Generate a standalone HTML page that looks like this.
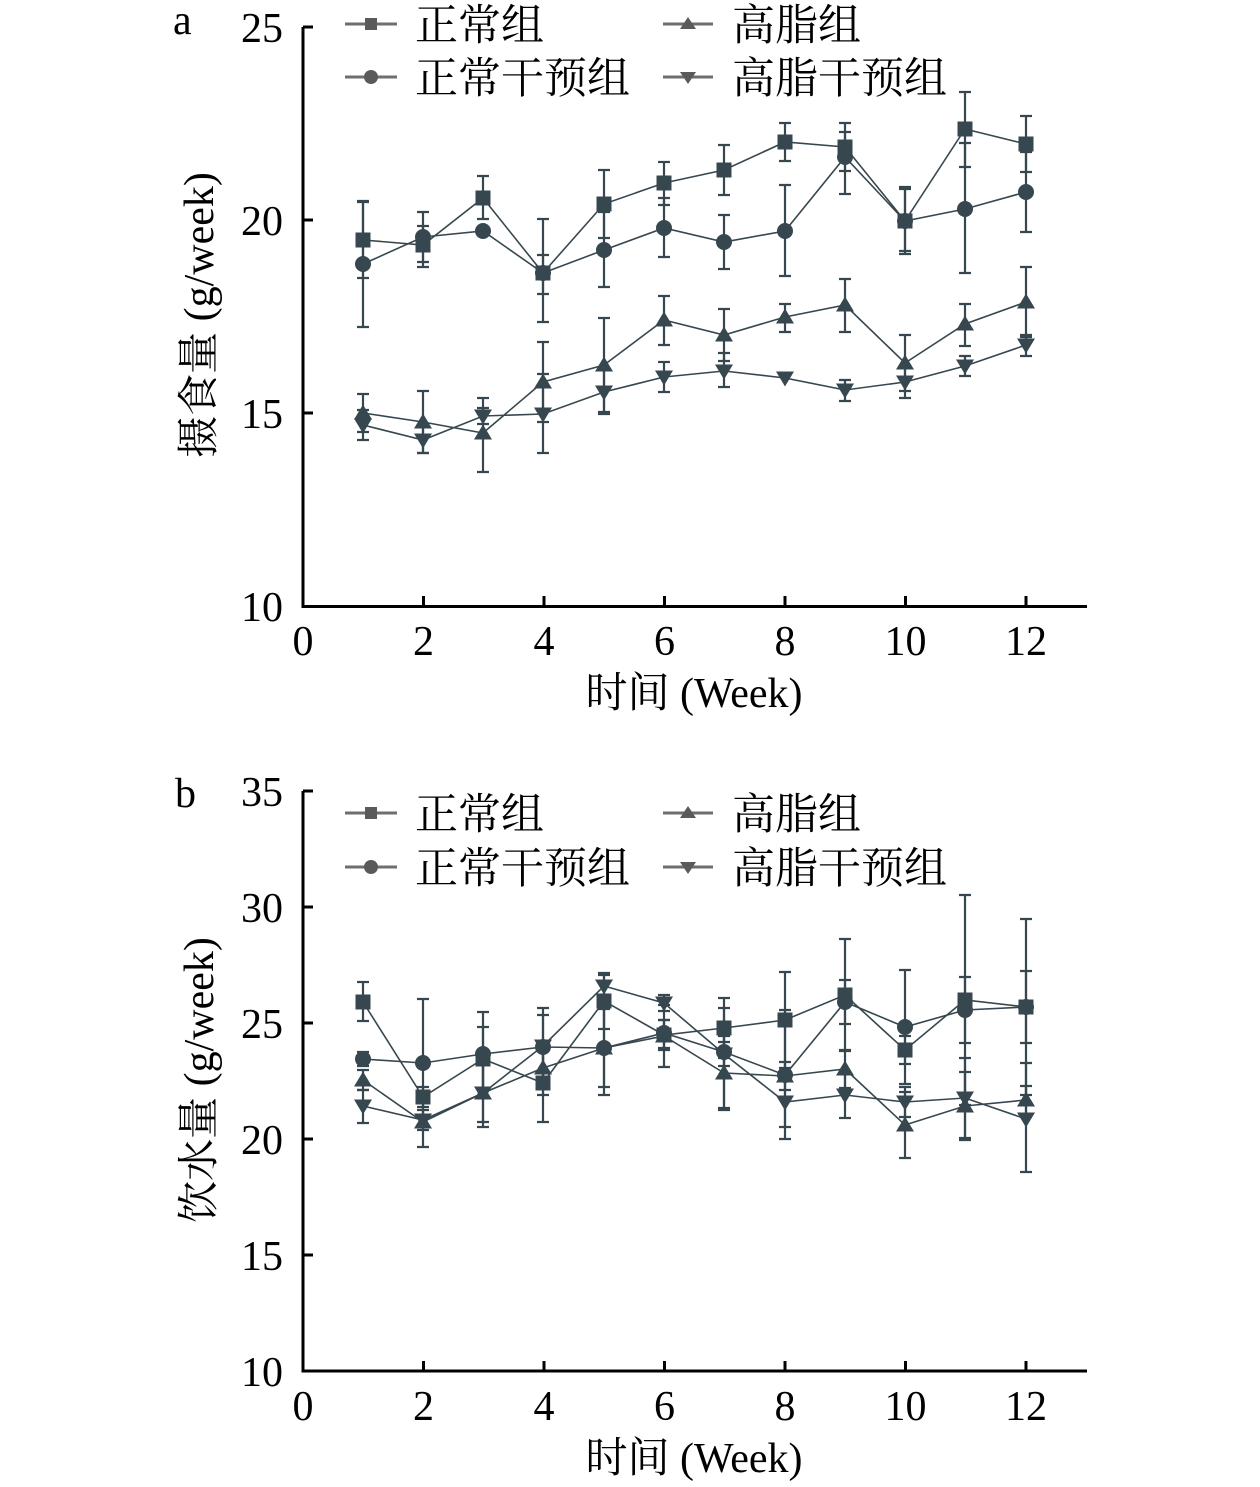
<!DOCTYPE html>
<html>
<head>
<meta charset="utf-8">
<style>
html,body{margin:0;padding:0;background:#fff;}
svg{display:block;}
.num{font-family:"Liberation Serif","Noto Serif CJK SC",serif;font-size:42px;fill:#000;}
.cjk{font-family:"Liberation Serif","Noto Serif CJK SC",serif;font-size:43px;fill:#000;}
.ln{fill:none;stroke:#37474f;stroke-width:1.6;}
.eb{fill:none;stroke:#37474f;stroke-width:2.2;}
.mk{fill:#37474f;}
.lg{fill:#5a5a5a;}
.lgl{stroke:#6e6e6e;stroke-width:3;}
.ax{stroke:#000;stroke-width:3;fill:none;}
</style>
</head>
<body>
<svg width="1260" height="1487" viewBox="0 0 1260 1487" xmlns="http://www.w3.org/2000/svg">
<defs>
<rect id="sq" x="-7.5" y="-7.5" width="15" height="15"/>
<circle id="ci" r="8"/>
<path id="tu" d="M0,-8.5 L9,6.5 L-9,6.5Z"/>
<path id="td" d="M0,8.5 L9,-6.5 L-9,-6.5Z"/>
<rect id="lsq" x="-6" y="-6" width="12" height="12"/>
<circle id="lci" r="7"/>
<path id="ltu" d="M0,-7 L8,5 L-8,5Z"/>
<path id="ltd" d="M0,7 L8,-5 L-8,-5Z"/>
</defs>

<!-- ================= CHART A ================= -->
<text class="num" x="173" y="34">a</text>
<path class="ax" d="M303 27V606.5H1087"/>
<path class="ax" d="M303 27h10M303 220h10M303 413h10"/>
<path class="ax" d="M423.5 606V596M544 606V596M664.5 606V596M785 606V596M905.5 606V596M1026 606V596"/>
<text class="num" x="283" y="42" text-anchor="end">25</text>
<text class="num" x="283" y="235" text-anchor="end">20</text>
<text class="num" x="283" y="428" text-anchor="end">15</text>
<text class="num" x="283" y="621" text-anchor="end">10</text>
<text class="num" x="303" y="655" text-anchor="middle">0</text>
<text class="num" x="423.5" y="655" text-anchor="middle">2</text>
<text class="num" x="544" y="655" text-anchor="middle">4</text>
<text class="num" x="664.5" y="655" text-anchor="middle">6</text>
<text class="num" x="785" y="655" text-anchor="middle">8</text>
<text class="num" x="905.5" y="655" text-anchor="middle">10</text>
<text class="num" x="1026" y="655" text-anchor="middle">12</text>
<text class="cjk" x="694" y="707" text-anchor="middle" style="font-size:42px">时间 (Week)</text>
<text class="cjk" transform="translate(213,315) rotate(-90)" text-anchor="middle" style="font-size:42px">摄食量 (g/week)</text>
<line class="lgl" x1="345" y1="24" x2="397" y2="24"/><use href="#lsq" x="371" y="24" class="lg"/>
<text class="cjk" x="415" y="40">正常组</text>
<line class="lgl" x1="345" y1="77" x2="397" y2="77"/><use href="#lci" x="371" y="77" class="lg"/>
<text class="cjk" x="415" y="93">正常干预组</text>
<line class="lgl" x1="663" y1="24" x2="713" y2="24"/><use href="#ltu" x="688" y="24" class="lg"/>
<text class="cjk" x="732" y="40">高脂组</text>
<line class="lgl" x1="663" y1="77" x2="713" y2="77"/><use href="#ltd" x="688" y="77" class="lg"/>
<text class="cjk" x="732" y="93">高脂干预组</text>

<polyline class="ln" points="363,240 423,245 483,198 543,273 604,204 664,183 724,170 785,142 845,147 905,221 965,129 1026,144"/>
<polyline class="ln" points="363,264 423,237 483,231 543,273 604,250 664,228 724,242 785,231 845,157 905,221 965,209 1026,192"/>
<polyline class="ln" points="363,413 423,422 483,433 543,382 604,365 664,320 724,335 785,317 845,305 905,363 965,324 1026,302"/>
<polyline class="ln" points="363,425 423,440 483,416 543,414 604,392 664,377 724,371 785,378 845,390 905,382 965,366 1026,345"/>
<path class="eb" d="M363 202V278M357 202h12M357 278h12M423 226V267M417 226h12M417 267h12M483 176V219M477 176h12M477 219h12M543 219V322M537 219h12M537 322h12M604 170V238M598 170h12M598 238h12M664 162V205M658 162h12M658 205h12M724 145V195M718 145h12M718 195h12M785 123V161M779 123h12M779 161h12M845 123V171M839 123h12M839 171h12M905 187V254M899 187h12M899 254h12M965 92V167M959 92h12M959 167h12M1026 116V172M1020 116h12M1020 172h12"/>
<path class="eb" d="M363 201V327M357 201h12M357 327h12M423 212V262M417 212h12M417 262h12M543 255V294M537 255h12M537 294h12M604 212V287M598 212h12M598 287h12M664 198V257M658 198h12M658 257h12M724 215V269M718 215h12M718 269h12M785 185V276M779 185h12M779 276h12M845 132V194M839 132h12M839 194h12M905 189V251M899 189h12M899 251h12M965 143V273M959 143h12M959 273h12M1026 152V232M1020 152h12M1020 232h12"/>
<path class="eb" d="M363 394V432M357 394h12M357 432h12M423 391V453M417 391h12M417 453h12M483 398V472M477 398h12M477 472h12M543 342V422M537 342h12M537 422h12M604 318V412M598 318h12M598 412h12M664 296V345M658 296h12M658 345h12M724 309V361M718 309h12M718 361h12M785 304V332M779 304h12M779 332h12M845 279V332M839 279h12M839 332h12M905 335V391M899 335h12M899 391h12M965 304V346M959 304h12M959 346h12M1026 267V337M1020 267h12M1020 337h12"/>
<path class="eb" d="M363 410V440M357 410h12M357 440h12M423 427V453M417 427h12M417 453h12M483 408V424M477 408h12M477 424h12M543 374V453M537 374h12M537 453h12M604 370V414M598 370h12M598 414h12M664 362V392M658 362h12M658 392h12M724 353V387M718 353h12M718 387h12M845 380V401M839 380h12M839 401h12M905 367V398M899 367h12M899 398h12M965 356V376M959 356h12M959 376h12M1026 335V356M1020 335h12M1020 356h12"/>
<g class="mk">
<use href="#ci" x="363" y="264"/><use href="#ci" x="423" y="237"/><use href="#ci" x="483" y="231"/><use href="#ci" x="543" y="273"/><use href="#ci" x="604" y="250"/><use href="#ci" x="664" y="228"/><use href="#ci" x="724" y="242"/><use href="#ci" x="785" y="231"/><use href="#ci" x="845" y="157"/><use href="#ci" x="905" y="221"/><use href="#ci" x="965" y="209"/><use href="#ci" x="1026" y="192"/>
<use href="#sq" x="363" y="240"/><use href="#sq" x="423" y="245"/><use href="#sq" x="483" y="198"/><use href="#sq" x="543" y="273"/><use href="#sq" x="604" y="204"/><use href="#sq" x="664" y="183"/><use href="#sq" x="724" y="170"/><use href="#sq" x="785" y="142"/><use href="#sq" x="845" y="147"/><use href="#sq" x="905" y="221"/><use href="#sq" x="965" y="129"/><use href="#sq" x="1026" y="144"/>
<use href="#td" x="363" y="425"/><use href="#td" x="423" y="440"/><use href="#td" x="483" y="416"/><use href="#td" x="543" y="414"/><use href="#td" x="604" y="392"/><use href="#td" x="664" y="377"/><use href="#td" x="724" y="371"/><use href="#td" x="785" y="378"/><use href="#td" x="845" y="390"/><use href="#td" x="905" y="382"/><use href="#td" x="965" y="366"/><use href="#td" x="1026" y="345"/>
<use href="#tu" x="363" y="413"/><use href="#tu" x="423" y="422"/><use href="#tu" x="483" y="433"/><use href="#tu" x="543" y="382"/><use href="#tu" x="604" y="365"/><use href="#tu" x="664" y="320"/><use href="#tu" x="724" y="335"/><use href="#tu" x="785" y="317"/><use href="#tu" x="845" y="305"/><use href="#tu" x="905" y="363"/><use href="#tu" x="965" y="324"/><use href="#tu" x="1026" y="302"/>
</g>

<!-- ================= CHART B ================= -->
<text class="num" x="175" y="807">b</text>
<path class="ax" d="M303 791V1371H1087"/>
<path class="ax" d="M303 791h10M303 907h10M303 1023h10M303 1139h10M303 1255h10"/>
<path class="ax" d="M423.5 1371V1361M544 1371V1361M664.5 1371V1361M785 1371V1361M905.5 1371V1361M1026 1371V1361"/>
<text class="num" x="283" y="806" text-anchor="end">35</text>
<text class="num" x="283" y="922" text-anchor="end">30</text>
<text class="num" x="283" y="1038" text-anchor="end">25</text>
<text class="num" x="283" y="1154" text-anchor="end">20</text>
<text class="num" x="283" y="1270" text-anchor="end">15</text>
<text class="num" x="283" y="1386" text-anchor="end">10</text>
<text class="num" x="303" y="1420" text-anchor="middle">0</text>
<text class="num" x="423.5" y="1420" text-anchor="middle">2</text>
<text class="num" x="544" y="1420" text-anchor="middle">4</text>
<text class="num" x="664.5" y="1420" text-anchor="middle">6</text>
<text class="num" x="785" y="1420" text-anchor="middle">8</text>
<text class="num" x="905.5" y="1420" text-anchor="middle">10</text>
<text class="num" x="1026" y="1420" text-anchor="middle">12</text>
<text class="cjk" x="694" y="1472" text-anchor="middle" style="font-size:42px">时间 (Week)</text>
<text class="cjk" transform="translate(213,1080) rotate(-90)" text-anchor="middle" style="font-size:42px">饮水量 (g/week)</text>
<line class="lgl" x1="345" y1="813" x2="397" y2="813"/><use href="#lsq" x="371" y="813" class="lg"/>
<text class="cjk" x="415" y="829">正常组</text>
<line class="lgl" x1="345" y1="867" x2="397" y2="867"/><use href="#lci" x="371" y="867" class="lg"/>
<text class="cjk" x="415" y="883">正常干预组</text>
<line class="lgl" x1="663" y1="813" x2="713" y2="813"/><use href="#ltu" x="688" y="813" class="lg"/>
<text class="cjk" x="732" y="829">高脂组</text>
<line class="lgl" x1="663" y1="867" x2="713" y2="867"/><use href="#ltd" x="688" y="867" class="lg"/>
<text class="cjk" x="732" y="883">高脂干预组</text>

<polyline class="ln" points="363,1002 423,1097 483,1059 543,1083 604,1001 664,1035 724,1028 785,1020 845,995 905,1050 965,1000 1026,1007"/>
<polyline class="ln" points="363,1059 423,1063 483,1054 543,1047 604,1048 664,1033 724,1052 785,1075 845,1002 905,1027 965,1010 1026,1007"/>
<polyline class="ln" points="363,1080 423,1122 483,1093 543,1068 604,1048 664,1036 724,1073 785,1076 845,1069 905,1125 965,1106 1026,1100"/>
<polyline class="ln" points="363,1106 423,1120 483,1093 543,1046 604,986 664,1003 724,1054 785,1102 845,1095 905,1102 965,1098 1026,1119"/>
<path class="eb" d="M363 982V1021M357 982h12M357 1021h12M423 1087V1107M417 1087h12M417 1107h12M483 1027V1091M477 1027h12M477 1091h12M543 1044V1122M537 1044h12M537 1122h12M604 975V1029M598 975h12M598 1029h12M664 1020V1050M658 1020h12M658 1050h12M724 998V1058M718 998h12M718 1058h12M785 972V1068M779 972h12M779 1068h12M845 939V1051M839 939h12M839 1051h12M905 1036V1064M899 1036h12M899 1064h12M965 895V1105M959 895h12M959 1105h12M1026 919V1095M1020 919h12M1020 1095h12"/>
<path class="eb" d="M363 1052V1066M357 1052h12M357 1066h12M423 999V1127M417 999h12M417 1127h12M483 1012V1096M477 1012h12M477 1096h12M543 1008V1086M537 1008h12M537 1086h12M604 1000V1095M598 1000h12M598 1095h12M664 1020V1048M658 1020h12M658 1048h12M724 1008V1108M718 1008h12M718 1108h12M785 1010V1139M779 1010h12M779 1139h12M845 980V1024M839 980h12M839 1024h12M905 970V1084M899 970h12M899 1084h12M965 977V1043M959 977h12M959 1043h12M1026 971V1043M1020 971h12M1020 1043h12"/>
<path class="eb" d="M363 1070V1090M357 1070h12M357 1090h12M423 1097V1147M417 1097h12M417 1147h12M483 1064V1122M477 1064h12M477 1122h12M543 1041V1095M537 1041h12M537 1095h12M604 1009V1087M598 1009h12M598 1087h12M664 1005V1067M658 1005h12M658 1067h12M724 1036V1110M718 1036h12M718 1110h12M785 1062V1090M779 1062h12M779 1090h12M845 1050V1088M839 1050h12M839 1088h12M905 1092V1158M899 1092h12M899 1158h12M965 1072V1140M959 1072h12M959 1140h12M1026 1086V1114M1020 1086h12M1020 1114h12"/>
<path class="eb" d="M363 1090V1123M357 1090h12M357 1123h12M423 1110V1130M417 1110h12M417 1130h12M483 1059V1127M477 1059h12M477 1127h12M543 1015V1077M537 1015h12M537 1077h12M604 973V999M598 973h12M598 999h12M664 995V1011M658 995h12M658 1011h12M724 1042V1066M718 1042h12M718 1066h12M785 1077V1127M779 1077h12M779 1127h12M845 1072V1118M839 1072h12M839 1118h12M905 1087V1117M899 1087h12M899 1117h12M965 1058V1138M959 1058h12M959 1138h12M1026 1063V1172M1020 1063h12M1020 1172h12"/>
<g class="mk">
<use href="#ci" x="363" y="1059"/><use href="#ci" x="423" y="1063"/><use href="#ci" x="483" y="1054"/><use href="#ci" x="543" y="1047"/><use href="#ci" x="604" y="1048"/><use href="#ci" x="664" y="1033"/><use href="#ci" x="724" y="1052"/><use href="#ci" x="785" y="1075"/><use href="#ci" x="845" y="1002"/><use href="#ci" x="905" y="1027"/><use href="#ci" x="965" y="1010"/><use href="#ci" x="1026" y="1007"/>
<use href="#sq" x="363" y="1002"/><use href="#sq" x="423" y="1097"/><use href="#sq" x="483" y="1059"/><use href="#sq" x="543" y="1083"/><use href="#sq" x="604" y="1001"/><use href="#sq" x="664" y="1035"/><use href="#sq" x="724" y="1028"/><use href="#sq" x="785" y="1020"/><use href="#sq" x="845" y="995"/><use href="#sq" x="905" y="1050"/><use href="#sq" x="965" y="1000"/><use href="#sq" x="1026" y="1007"/>
<use href="#td" x="363" y="1106"/><use href="#td" x="423" y="1120"/><use href="#td" x="483" y="1093"/><use href="#td" x="543" y="1046"/><use href="#td" x="604" y="986"/><use href="#td" x="664" y="1003"/><use href="#td" x="724" y="1054"/><use href="#td" x="785" y="1102"/><use href="#td" x="845" y="1095"/><use href="#td" x="905" y="1102"/><use href="#td" x="965" y="1098"/><use href="#td" x="1026" y="1119"/>
<use href="#tu" x="363" y="1080"/><use href="#tu" x="423" y="1122"/><use href="#tu" x="483" y="1093"/><use href="#tu" x="543" y="1068"/><use href="#tu" x="604" y="1048"/><use href="#tu" x="664" y="1036"/><use href="#tu" x="724" y="1073"/><use href="#tu" x="785" y="1076"/><use href="#tu" x="845" y="1069"/><use href="#tu" x="905" y="1125"/><use href="#tu" x="965" y="1106"/><use href="#tu" x="1026" y="1100"/>
</g>
</svg>
</body>
</html>
